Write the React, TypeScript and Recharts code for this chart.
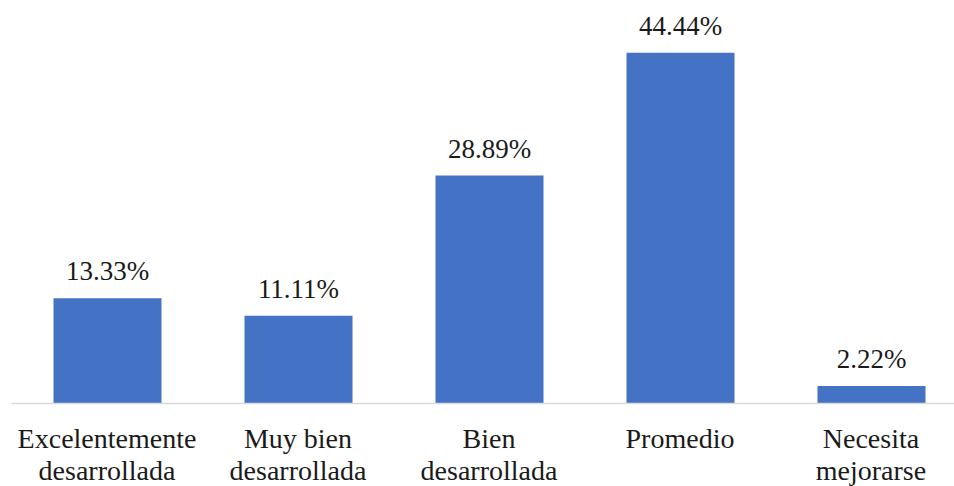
import { BarChart, Bar, XAxis, YAxis, LabelList } from 'recharts';

const categories = [
  'Excelentemente\ndesarrollada',
  'Muy bien\ndesarrollada',
  'Bien\ndesarrollada',
  'Promedio',
  'Necesita\nmejorarse',
];
const percentages = [13.33, 11.11, 28.89, 44.44, 2.22];

const data = categories.map((name, i) => ({ name, value: percentages[i] }));

const FONT = 'Liberation Serif, Tinos, DejaVu Serif, serif';

const CategoryTick = (props: any) => {
  const { x, y, payload } = props;
  const lines: string[] = String(payload.value).split('\n');
  return (
    <text
      x={x}
      y={y}
      textAnchor='middle'
      style={{ fontFamily: FONT, fontSize: 28 }}
      fill='#1a1a1a'
    >
      {lines.map((line, i) => (
        <tspan key={i} x={x} dy={i === 0 ? 36.5 : 32}>
          {line}
        </tspan>
      ))}
    </text>
  );
};

export default function App() {
  return (
    <div
      style={{
        position: 'absolute',
        left: 0,
        top: 0,
        width: 954,
        height: 486,
        overflow: 'hidden',
        background: '#fff',
        fontFamily: FONT,
      }}
    >
      <BarChart
        width={980}
        height={486}
        data={data}
        margin={{ top: 9, right: 13.5, left: 11.5, bottom: 22.5 }}
        style={{ fontFamily: FONT }}
      >
        <XAxis
          dataKey='name'
          height={60}
          tickLine={false}
          axisLine={{ stroke: '#d9d9d9', strokeWidth: 1.5 }}
          tick={<CategoryTick />}
          interval={0}
        />
        <YAxis hide domain={[0, 50]} />
        <Bar
          dataKey='value'
          fill='#4472c4'
          barSize={108}
          isAnimationActive={false}
        >
          <LabelList
            dataKey='value'
            position='top'
            offset={18}
            formatter={(v: any) => `${Number(v).toFixed(2)}%`}
            style={{ fontFamily: FONT, fontSize: 27, fill: '#1a1a1a' }}
          />
        </Bar>
      </BarChart>
    </div>
  );
}
